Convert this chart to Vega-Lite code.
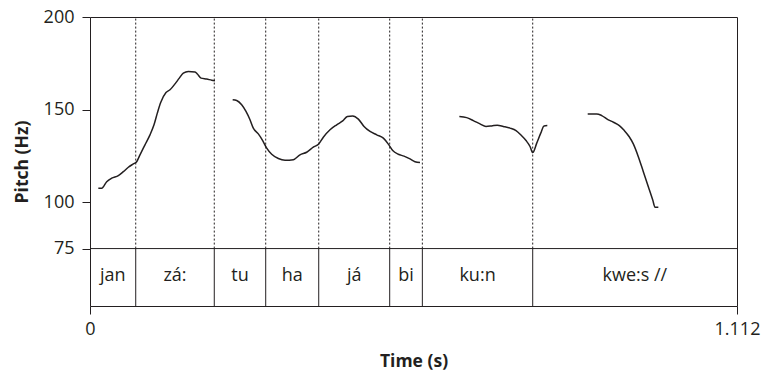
{
  "$schema": "https://vega.github.io/schema/vega-lite/v6.json",
  "width": 647,
  "height": 289,
  "autosize": {"type": "none"},
  "padding": {"left": 90, "top": 17, "right": 26, "bottom": 68},
  "background": "white",
  "config": {
    "view": {"stroke": "#231f20", "strokeWidth": 1},
    "font": "Open Sans",
    "axis": {
      "domain": false,
      "grid": false,
      "tickColor": "#231f20",
      "tickSize": 8,
      "labelColor": "#231f20",
      "titleColor": "#231f20",
      "labelFont": "Open Sans",
      "titleFont": "Open Sans",
      "labelFontSize": 18,
      "titleFontSize": 17.5,
      "titleFontWeight": "bold",
      "labelFlush": false
    },
    "axisX": {"labelPadding": 6, "titlePadding": 14},
    "axisY": {"labelPadding": 8, "titlePadding": 12}
  },
  "datasets": {
    "pitch": [
      {"seg": 1, "t": 0.0143, "hz": 107.6},
      {"seg": 1, "t": 0.0201, "hz": 107.6},
      {"seg": 1, "t": 0.0287, "hz": 111.1},
      {"seg": 1, "t": 0.0373, "hz": 113.0},
      {"seg": 1, "t": 0.0487, "hz": 114.4},
      {"seg": 1, "t": 0.0573, "hz": 116.5},
      {"seg": 1, "t": 0.0659, "hz": 118.9},
      {"seg": 1, "t": 0.0745, "hz": 120.7},
      {"seg": 1, "t": 0.0802, "hz": 121.9},
      {"seg": 1, "t": 0.0859, "hz": 125.6},
      {"seg": 1, "t": 0.0945, "hz": 131.0},
      {"seg": 1, "t": 0.1031, "hz": 136.4},
      {"seg": 1, "t": 0.1100, "hz": 141.8},
      {"seg": 1, "t": 0.1157, "hz": 148.1},
      {"seg": 1, "t": 0.1215, "hz": 153.8},
      {"seg": 1, "t": 0.1306, "hz": 159.2},
      {"seg": 1, "t": 0.1375, "hz": 160.7},
      {"seg": 1, "t": 0.1461, "hz": 163.9},
      {"seg": 1, "t": 0.1535, "hz": 167.0},
      {"seg": 1, "t": 0.1604, "hz": 169.7},
      {"seg": 1, "t": 0.1690, "hz": 170.6},
      {"seg": 1, "t": 0.1805, "hz": 170.3},
      {"seg": 1, "t": 0.1845, "hz": 169.2},
      {"seg": 1, "t": 0.1908, "hz": 167.0},
      {"seg": 1, "t": 0.2006, "hz": 166.5},
      {"seg": 1, "t": 0.2092, "hz": 165.9},
      {"seg": 1, "t": 0.2148, "hz": 165.6},
      {"seg": 2, "t": 0.2452, "hz": 155.3},
      {"seg": 2, "t": 0.2521, "hz": 154.9},
      {"seg": 2, "t": 0.2607, "hz": 152.6},
      {"seg": 2, "t": 0.2681, "hz": 149.0},
      {"seg": 2, "t": 0.2750, "hz": 144.5},
      {"seg": 2, "t": 0.2807, "hz": 140.0},
      {"seg": 2, "t": 0.2893, "hz": 136.9},
      {"seg": 2, "t": 0.2968, "hz": 133.3},
      {"seg": 2, "t": 0.3037, "hz": 129.2},
      {"seg": 2, "t": 0.3123, "hz": 125.9},
      {"seg": 2, "t": 0.3237, "hz": 123.6},
      {"seg": 2, "t": 0.3352, "hz": 122.7},
      {"seg": 2, "t": 0.3495, "hz": 123.0},
      {"seg": 2, "t": 0.3609, "hz": 125.6},
      {"seg": 2, "t": 0.3724, "hz": 127.0},
      {"seg": 2, "t": 0.3838, "hz": 129.7},
      {"seg": 2, "t": 0.3931, "hz": 131.5},
      {"seg": 2, "t": 0.4010, "hz": 135.1},
      {"seg": 2, "t": 0.4125, "hz": 139.1},
      {"seg": 2, "t": 0.4240, "hz": 141.8},
      {"seg": 2, "t": 0.4343, "hz": 143.9},
      {"seg": 2, "t": 0.4423, "hz": 146.3},
      {"seg": 2, "t": 0.4515, "hz": 146.6},
      {"seg": 2, "t": 0.4612, "hz": 144.9},
      {"seg": 2, "t": 0.4710, "hz": 140.9},
      {"seg": 2, "t": 0.4813, "hz": 138.2},
      {"seg": 2, "t": 0.4928, "hz": 136.4},
      {"seg": 2, "t": 0.5042, "hz": 134.6},
      {"seg": 2, "t": 0.5127, "hz": 131.4},
      {"seg": 2, "t": 0.5203, "hz": 127.9},
      {"seg": 2, "t": 0.5299, "hz": 125.9},
      {"seg": 2, "t": 0.5397, "hz": 124.9},
      {"seg": 2, "t": 0.5500, "hz": 123.4},
      {"seg": 2, "t": 0.5586, "hz": 121.9},
      {"seg": 2, "t": 0.5672, "hz": 121.4},
      {"seg": 3, "t": 0.6348, "hz": 146.3},
      {"seg": 3, "t": 0.6474, "hz": 145.7},
      {"seg": 3, "t": 0.6588, "hz": 144.1},
      {"seg": 3, "t": 0.6703, "hz": 142.3},
      {"seg": 3, "t": 0.6806, "hz": 140.9},
      {"seg": 3, "t": 0.6904, "hz": 141.2},
      {"seg": 3, "t": 0.7000, "hz": 141.6},
      {"seg": 3, "t": 0.7104, "hz": 140.9},
      {"seg": 3, "t": 0.7219, "hz": 140.0},
      {"seg": 3, "t": 0.7322, "hz": 138.7},
      {"seg": 3, "t": 0.7403, "hz": 136.4},
      {"seg": 3, "t": 0.7494, "hz": 133.3},
      {"seg": 3, "t": 0.7563, "hz": 130.1},
      {"seg": 3, "t": 0.7609, "hz": 126.8},
      {"seg": 3, "t": 0.7678, "hz": 131.9},
      {"seg": 3, "t": 0.7747, "hz": 137.3},
      {"seg": 3, "t": 0.7803, "hz": 141.2},
      {"seg": 3, "t": 0.7860, "hz": 141.4},
      {"seg": 4, "t": 0.8554, "hz": 147.6},
      {"seg": 4, "t": 0.8709, "hz": 147.7},
      {"seg": 4, "t": 0.8795, "hz": 146.8},
      {"seg": 4, "t": 0.8909, "hz": 144.5},
      {"seg": 4, "t": 0.8995, "hz": 143.2},
      {"seg": 4, "t": 0.9098, "hz": 141.4},
      {"seg": 4, "t": 0.9184, "hz": 138.7},
      {"seg": 4, "t": 0.9265, "hz": 135.5},
      {"seg": 4, "t": 0.9338, "hz": 131.5},
      {"seg": 4, "t": 0.9424, "hz": 124.6},
      {"seg": 4, "t": 0.9510, "hz": 116.5},
      {"seg": 4, "t": 0.9596, "hz": 108.4},
      {"seg": 4, "t": 0.9672, "hz": 101.2},
      {"seg": 4, "t": 0.9711, "hz": 97.3},
      {"seg": 4, "t": 0.9768, "hz": 97.3}
    ],
    "bounds": [
      {"t": 0.0786}, {"t": 0.2136}, {"t": 0.3020}, {"t": 0.3931},
      {"t": 0.5151}, {"t": 0.5712}, {"t": 0.7609}
    ],
    "tiers": [
      {"label": "jan", "start": 0, "end": 0.0786},
      {"label": "zá:", "start": 0.0786, "end": 0.2136},
      {"label": "tu", "start": 0.2136, "end": 0.3020},
      {"label": "ha", "start": 0.3020, "end": 0.3931},
      {"label": "já", "start": 0.3931, "end": 0.5151},
      {"label": "bi", "start": 0.5151, "end": 0.5712},
      {"label": "ku:n", "start": 0.5712, "end": 0.7609},
      {"label": "kwe:s //", "start": 0.7609, "end": 1.112}
    ]
  },
  "layer": [
    {
      "data": {"name": "pitch"},
      "mark": {"type": "line", "color": "#231f20", "strokeWidth": 1.5, "interpolate": "monotone"},
      "encoding": {
        "x": {
          "field": "t", "type": "quantitative",
          "scale": {"domain": [0, 1.112], "nice": false, "zero": false},
          "axis": {"values": [0, 1.112], "format": ".3~f", "title": "Time (s)"}
        },
        "y": {
          "field": "hz", "type": "quantitative",
          "scale": {"domain": [44, 200], "nice": false, "zero": false},
          "axis": {"values": [75, 100, 150, 200], "title": "Pitch (Hz)"}
        },
        "detail": {"field": "seg", "type": "nominal"}
      }
    },
    {
      "data": {"values": [{"hz": 75}]},
      "mark": {"type": "rule", "color": "#231f20", "strokeWidth": 1},
      "encoding": {
        "y": {"field": "hz", "type": "quantitative", "axis": {"values": [75, 100, 150, 200], "title": "Pitch (Hz)"}}
      }
    },
    {
      "data": {"name": "bounds"},
      "mark": {"type": "rule", "color": "#231f20", "strokeWidth": 1, "strokeDash": [2, 2]},
      "encoding": {
        "x": {"field": "t", "type": "quantitative", "axis": {"values": [0, 1.112], "format": ".3~f", "title": "Time (s)"}},
        "y": {"datum": 75, "type": "quantitative", "axis": {"values": [75, 100, 150, 200], "title": "Pitch (Hz)"}},
        "y2": {"datum": 200}
      }
    },
    {
      "data": {"name": "bounds"},
      "mark": {"type": "rule", "color": "#231f20", "strokeWidth": 1},
      "encoding": {
        "x": {"field": "t", "type": "quantitative", "axis": {"values": [0, 1.112], "format": ".3~f", "title": "Time (s)"}},
        "y": {"datum": 44, "type": "quantitative", "axis": {"values": [75, 100, 150, 200], "title": "Pitch (Hz)"}},
        "y2": {"datum": 75}
      }
    },
    {
      "data": {"name": "tiers"},
      "transform": [{"calculate": "(datum.start + datum.end) / 2", "as": "mid"}],
      "mark": {"type": "text", "font": "Open Sans", "fontSize": 18, "color": "#231f20", "align": "center", "baseline": "middle"},
      "encoding": {
        "x": {"field": "mid", "type": "quantitative", "axis": {"values": [0, 1.112], "format": ".3~f", "title": "Time (s)"}},
        "y": {"datum": 60, "type": "quantitative", "axis": {"values": [75, 100, 150, 200], "title": "Pitch (Hz)"}},
        "text": {"field": "label", "type": "nominal"}
      }
    }
  ]
}
